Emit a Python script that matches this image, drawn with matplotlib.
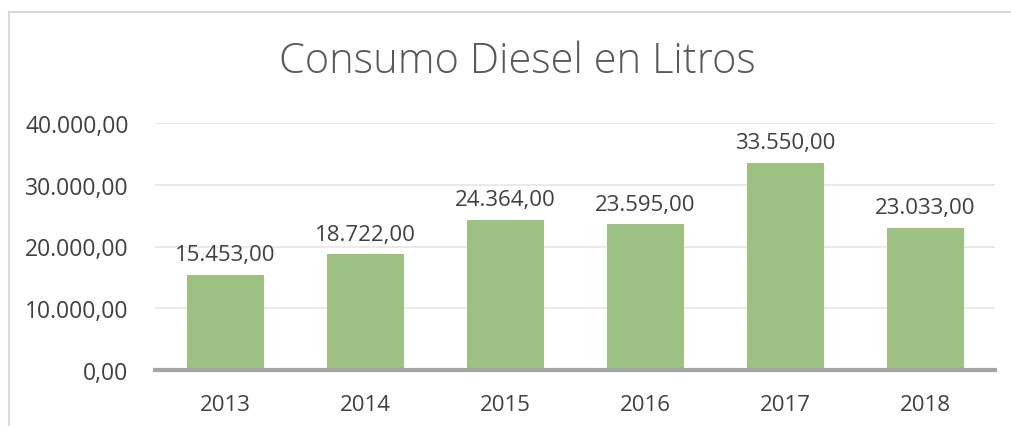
import matplotlib
matplotlib.use("Agg")
import matplotlib.pyplot as plt
from matplotlib.lines import Line2D

years = ["2013", "2014", "2015", "2016", "2017", "2018"]
values = [15453, 18722, 24364, 23595, 33550, 23033]
yticks = [0, 10000, 20000, 30000, 40000]

def fmt(v):
    s = f"{v:,.2f}"
    return s.replace(",", "X").replace(".", ",").replace("X", ".")

plt.rcParams['font.family'] = ['Open Sans', 'DejaVu Sans']

W, H = 1011, 427
fig = plt.figure(figsize=(W/100, H/100), dpi=100)
ax = fig.add_axes([155/W, 1-371/H, 840/W, (371-124)/H])

x = range(len(years))
ax.bar(x, values, width=0.55, color="#9dc183", zorder=3)
ax.set_xlim(-0.5, len(years)-0.5)
ax.set_ylim(0, 40000)
ax.set_yticks(yticks)
ax.set_yticklabels([fmt(v) for v in yticks], fontsize=16.5, color="#404040")
ax.set_xticks(list(x))
ax.set_xticklabels(years, fontsize=16, color="#404040")
ax.tick_params(axis='y', length=0, pad=19)
ax.tick_params(axis='x', length=0, pad=17)
ax.grid(axis='y', color="#e6e6e6", linewidth=1.2, zorder=0)
for s in ["top", "right", "left"]:
    ax.spines[s].set_visible(False)
ax.spines["bottom"].set_color("#a6a6a6")
ax.spines["bottom"].set_linewidth(3)
ax.spines["bottom"].set_zorder(4)

for xi, v in zip(x, values):
    ax.annotate(fmt(v), (xi, v), xytext=(0, 7), textcoords="offset points",
                ha="center", va="bottom", fontsize=16, color="#404040")

fig.text(517/W, 1-62/H, "Consumo Diesel en Litros", ha="center", va="center",
         fontsize=30, color="#595959", fontweight='light')

fig.add_artist(Line2D([9/W, 1], [1-13/H, 1-13/H], color="#d9d9d9", lw=1.5))
fig.add_artist(Line2D([9/W, 9/W], [1-13/H, 0], color="#d9d9d9", lw=1.5))

fig.savefig("out.png", dpi=100)
